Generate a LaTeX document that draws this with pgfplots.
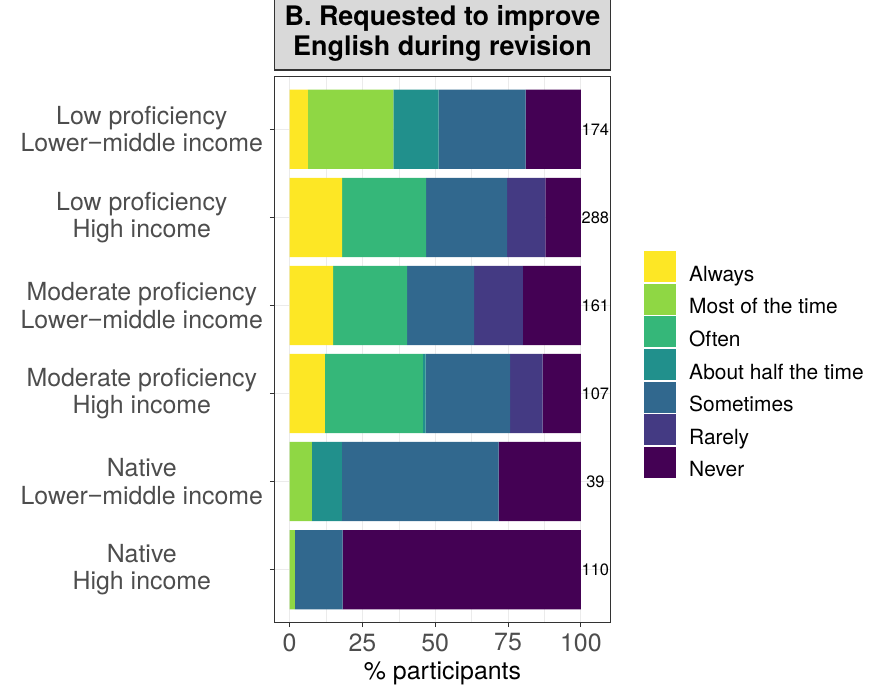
\documentclass[border=0pt]{standalone}
\usepackage{pgfplots}
\pgfplotsset{compat=1.18}
\usepackage{pgfplotstable}
\usepackage{fontspec}
\setmainfont{TeX Gyre Heros}
\newfontfamily\minusfont{Liberation Sans}
\newcommand{\mminus}{{\minusfont −}}

% viridis palette, 7 levels
\definecolor{vAlways}{HTML}{FDE725}
\definecolor{vMost}{HTML}{8FD744}
\definecolor{vOften}{HTML}{35B779}
\definecolor{vHalf}{HTML}{21908C}
\definecolor{vSome}{HTML}{31688E}
\definecolor{vRare}{HTML}{443A83}
\definecolor{vNever}{HTML}{440154}
\definecolor{gray30}{HTML}{4D4D4D}
\definecolor{gray20}{HTML}{333333}
\definecolor{gray85}{HTML}{D9D9D9}
\definecolor{gray92}{HTML}{EBEBEB}

% percentage of participants per answer, one row per group
\pgfplotstableread{
row always most  often half  some  rare  never
1   6.32   29.31 0     15.52 29.89 0     18.97
2   18.06  0     28.82 0     27.78 13.19 12.15
3   14.91  0     25.47 0     22.98 16.77 19.88
4   12.15  0     33.64 0.93  28.97 11.21 13.08
5   0      7.69  0     10.26 53.85 0     28.21
6   0      1.82  0     0     16.36 0     81.82
}\answers

% group sizes, printed right of each bar
\pgfplotstableread{
row pos n
1   105 174
2   105 288
3   105 161
4   105 107
5   105 39
6   105 110
}\groupsize

\pgfplotsset{
  panel/.style={
    at={(274.3bp,62.5bp)}, anchor=south west,
    scale only axis, width=336.4bp, height=546bp,
    xmin=-5.25, xmax=110.25, ymin=0.4, ymax=6.6, y dir=reverse,
  },
  keybox/.style={
    legend image code/.code={\fill[##1,draw=none] (0bp,-7.9bp) rectangle (32bp,23.1bp);}
  },
}

\begin{document}
\begin{tikzpicture}
\useasboundingbox (0,0) rectangle (875bp,685bp);
\begin{axis}[
  panel,
  xbar stacked, bar width=0.9,
  ytick={1,2,3,4,5,6},
  yticklabels={
    {Low proficiency\\Lower\mminus middle income},
    {Low proficiency\\High income},
    {Moderate proficiency\\Lower\mminus middle income},
    {Moderate proficiency\\High income},
    {Native\\Lower\mminus middle income},
    {Native\\High income}},
  xtick={0,25,50,75,100},
  minor xtick={12.5,37.5,62.5,87.5},
  xmajorgrids, ymajorgrids, xminorgrids,
  major grid style={gray92, line width=1bp},
  minor grid style={gray92, line width=0.5bp},
  axis line style={gray20, line width=1.1bp},
  major tick style={gray20, line width=1bp},
  major tick length=4.5bp, minor tick length=0pt,
  tick align=outside,
  xtick pos=lower, ytick pos=left,
  /pgf/number format/assume math mode=true,
  ticklabel style={font=\fontsize{25}{27.5}\selectfont, text=gray30},
  xticklabel style={yshift=-3bp},
  yticklabel style={anchor=center, align=center, xshift=-128bp},
  xlabel={\% participants},
  xlabel style={font=\fontsize{25}{27.5}\selectfont, text=black, yshift=-3bp},
  title={B. Requested to improve\\English during revision},
  title style={at={(0.5,1)}, anchor=south, yshift=0pt,
    fill=gray85, draw=gray20, line width=1.1bp,
    minimum width=336.4bp, minimum height=73.5bp, inner sep=0pt,
    align=center, font=\bfseries\fontsize{27}{30}\selectfont},
  legend style={at={(1.099,0.472)}, anchor=west, draw=none, fill=none,
    inner sep=0pt, row sep=1bp, column sep=13bp,
    nodes={inner sep=0pt},
    font=\fontsize{21}{23}\selectfont},
  legend cell align=left,
]
\addplot[fill=vAlways, draw=none, keybox] table[x=always, y=row] {\answers};
\addplot[fill=vMost,   draw=none, keybox] table[x=most,   y=row] {\answers};
\addplot[fill=vOften,  draw=none, keybox] table[x=often,  y=row] {\answers};
\addplot[fill=vHalf,   draw=none, keybox] table[x=half,   y=row] {\answers};
\addplot[fill=vSome,   draw=none, keybox] table[x=some,   y=row] {\answers};
\addplot[fill=vRare,   draw=none, keybox] table[x=rare,   y=row] {\answers};
\addplot[fill=vNever,  draw=none, keybox] table[x=never,  y=row] {\answers};
\legend{Always, Most of the time, Often, About half the time, Sometimes, Rarely, Never}
\end{axis}
\begin{axis}[panel, hide axis]
\addplot[draw=none, mark=none, nodes near coords, point meta=explicit symbolic,
  every node near coord/.append style={anchor=center, text=black,
    font=\fontsize{16.5}{18}\selectfont}]
  table[x=pos, y=row, meta=n] {\groupsize};
\end{axis}
\end{tikzpicture}
\end{document}
